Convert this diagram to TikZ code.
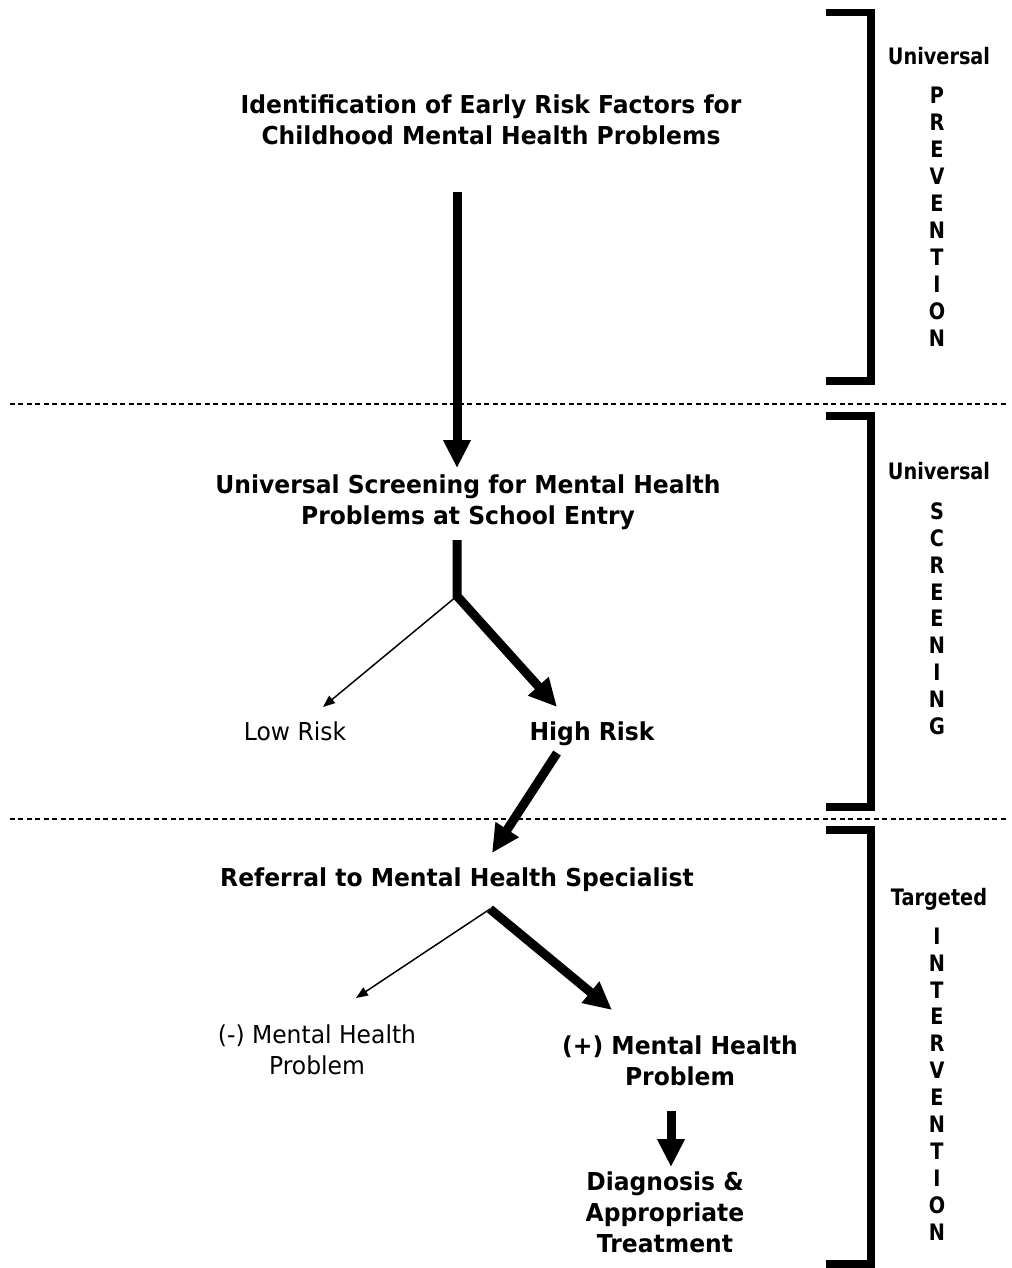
\documentclass[tikz,border=0pt]{standalone}
\usepackage{fontspec}
\setmainfont{DejaVu Sans}[FakeStretch=0.95]
\newfontfamily\sidefont{DejaVu Sans}[FakeStretch=0.85]
\usetikzlibrary{arrows.meta}
\begin{document}
\begin{tikzpicture}[x=0.75pt,y=-0.75pt,
  lbl/.style={inner sep=0pt, anchor=base, align=center, font=\fontsize{18.5pt}{23.25pt}\selectfont},
  blbl/.style={lbl, font=\fontsize{18.5pt}{23.25pt}\selectfont\bfseries},
  side/.style={inner sep=0pt, anchor=base, align=center, font=\sidefont\fontsize{17pt}{20.2pt}\selectfont\bfseries},
  thick arrow/.style={line width=6.75pt, -{Triangle[length=21pt,width=19.5pt]}},
  thin arrow/.style={line width=1.1pt, -{Triangle[length=9pt,width=7pt]}},
  bracket/.style={line width=5.5pt, line join=miter, line cap=butt},
  divider/.style={line width=0.8pt, dash pattern=on 3.75pt off 2.6pt}]
\useasboundingbox (0,0) rectangle (1011,1268);

% texts (multi-line nodes are placed by the baseline of their last line)
\node[blbl] (t1) at (491,144) {Identification of Early Risk Factors for\\Childhood Mental Health Problems};
\node[blbl] (t2) at (468,524) {Universal Screening for Mental Health\\Problems at School Entry};
\node[lbl] (low) at (295,740) {Low Risk};
\node[blbl] (high) at (592,740) {High Risk};
\node[blbl] (ref) at (457,886) {Referral to Mental Health Specialist};
\node[lbl] (neg) at (317,1074) {(-) Mental Health\\Problem};
\node[blbl] (pos) at (680,1085) {(+) Mental Health\\Problem};
\node[blbl] (diag) at (665,1252) {Diagnosis \&\\Appropriate\\Treatment};

% connector end points
\coordinate (a1s) at (457,192);
\coordinate (a1e) at (457,468);
\coordinate (b0) at (457,540);
\coordinate (sp1) at (457,596);
\coordinate (hiend) at (557,707);
\coordinate (loend) at (323,707);
\coordinate (h2s) at (557,753);
\coordinate (h2e) at (492,853);
\coordinate (sp2) at (490,909);
\coordinate (posend) at (612,1010);
\coordinate (negend) at (356,998);
\coordinate (d1s) at (671,1111);
\coordinate (d1e) at (671,1167);

% connectors
\draw[thick arrow] (a1s) -- (a1e);
\draw[thick arrow, line join=miter] (b0) -- (sp1) -- (hiend);
\draw[thin arrow] (sp1) -- (loend);
\draw[thick arrow] (h2s) -- (h2e);
\draw[thick arrow] (sp2) -- (posend);
\draw[thin arrow] (sp2) -- (negend);
\draw[thick arrow] (d1s) -- (d1e);

% dividers
\coordinate (dv1l) at (10,404); \coordinate (dv1r) at (1008,404);
\coordinate (dv2l) at (10,819); \coordinate (dv2r) at (1008,819);
\draw[divider] (dv1l) -- (dv1r);
\draw[divider] (dv2l) -- (dv2r);

% brackets
\draw[bracket] (826,12.5) -- (871,12.5) -- (871,381) -- (826,381);
\draw[bracket] (826,416) -- (871,416) -- (871,807) -- (826,807);
\draw[bracket] (826,830) -- (871,830) -- (871,1264) -- (826,1264);

% side labels
\node[side] (u1) at (939,64) {Universal};
\node[side] (prev) at (937,346) {P\\R\\E\\V\\E\\N\\T\\I\\O\\N};
\node[side] (u2) at (939,479) {Universal};
\node[side] (scr) at (937,734.7) {S\\C\\R\\E\\E\\N\\I\\N\\G};
\node[side] (tg) at (939,905) {Targeted};
\node[side] (intv) at (937,1240.4) {I\\N\\T\\E\\R\\V\\E\\N\\T\\I\\O\\N};
\end{tikzpicture}
\end{document}
